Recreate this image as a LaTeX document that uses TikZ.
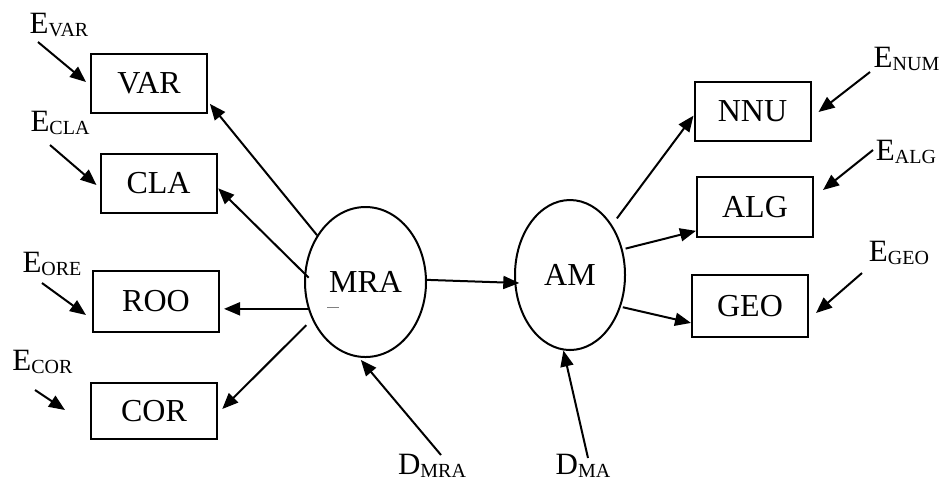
\documentclass[tikz,border=0pt]{standalone}
\usepackage{fontspec}
\setmainfont{Liberation Serif}
\usetikzlibrary{arrows.meta,shapes.geometric}
\newcommand{\lbl}[2]{#1\raisebox{-1.5pt}{\fontsize{10}{10}\selectfont #2}}

\begin{document}
\begin{tikzpicture}[
  x=0.5pt, y=-0.5pt,
  box/.style={draw, line width=1pt, font=\fontsize{16}{19}\selectfont, inner sep=0pt, minimum width=58pt, minimum height=29.5pt},
  oval/.style={draw, ellipse, line width=1pt, font=\fontsize{16}{19}\selectfont, inner sep=0pt, minimum height=75pt},
  lab/.style={font=\fontsize{15.5}{18}\selectfont, inner sep=0pt},
  arr/.style={-{Triangle[length=8pt, width=6.5pt]}, line width=1pt}
]
\useasboundingbox (0,0) rectangle (941,479);
\node[box] (var) at (149,83.5) {VAR};
\node[box] (cla) at (158.5,183.5) {CLA};
\node[box, minimum width=63pt, minimum height=30.5pt] (roo) at (156,301.5) {ROO};
\node[box, minimum width=63pt, minimum height=28pt] (cor) at (154,411) {COR};
\node[box] (nnu) at (752.5,111.5) {NNU};
\node[box, minimum height=30pt] (alg) at (755,207) {ALG};
\node[box, minimum height=31pt] (geo) at (750,306) {GEO};
\node[oval, minimum width=60.5pt] (mra) at (365.5,282) {MRA};
\node[oval, minimum width=55pt] (am) at (570,275) {AM};
\node[lab] (evar) at (59,25) {\lbl{E}{VAR}};
\node[lab] (ecla) at (60,122.5) {\lbl{E}{CLA}};
\node[lab] (eore) at (52,264) {\lbl{E}{ORE}};
\node[lab] (ecor) at (42.5,361.5) {\lbl{E}{COR}};
\node[lab] (enum) at (906.5,58.5) {\lbl{E}{NUM}};
\node[lab] (ealg) at (906,151.5) {\lbl{E}{ALG}};
\node[lab] (egeo) at (899,253) {\lbl{E}{GEO}};
\node[lab] (dmra) at (432,466) {\lbl{D}{MRA}};
\node[lab] (dma) at (583,466) {\lbl{D}{MA}};
\draw[line width=0.5pt, gray] ([shift={(-38.5,25)}]mra.center) -- ++(12,0);
\draw[arr, shorten >=1.5pt] (mra.136) -- (var.-17);
\draw[arr, shorten <=-3pt, shorten >=0.5pt] (mra.172) -- (cla.-4);
\draw[arr, shorten >=2pt] (mra.205) -- (mra.205 -| roo.east);
\draw[arr, shorten <=4pt, shorten >=3pt] (mra.215) -- (cor.-2);
\draw[arr, shorten >=-2.5pt] (mra.2) -- (am.188);
\draw[arr, shorten >=1.5pt] ([shift={(9,-11)}]dmra.center) -- (mra.265);
\draw[arr] ([shift={(5,-8)}]dma.center) -- (am.265);
\draw[arr, shorten <=4pt] (am.50) -- (nnu.184);
\draw[arr, shorten <=1.5pt] (am.26) -- (alg.202);
\draw[arr, shorten <=1pt] (am.-32) -- (geo.196);
\draw[arr] ([shift={(-21,17)}]evar.center) -- ([shift={(-4,-1.5)}]var.west);
\draw[arr] ([shift={(-10,22.5)}]ecla.center) -- ([shift={(-3,1.5)}]cla.west);
\draw[arr] ([shift={(-10,19)}]eore.center) -- ([shift={(-6,13.5)}]roo.west);
\draw[arr] ([shift={(-7.5,28.5)}]ecor.center) -- ([shift={(-25,-1)}]cor.west);
\draw[arr] ([shift={(-36.5,13.5)}]enum.center) -- ([shift={(7,0.5)}]nnu.east);
\draw[arr] ([shift={(-33,-1.5)}]ealg.center) -- ([shift={(9,-17)}]alg.east);
\draw[arr] ([shift={(-37,20)}]egeo.center) -- ([shift={(7,7)}]geo.east);
\end{tikzpicture}
\end{document}
